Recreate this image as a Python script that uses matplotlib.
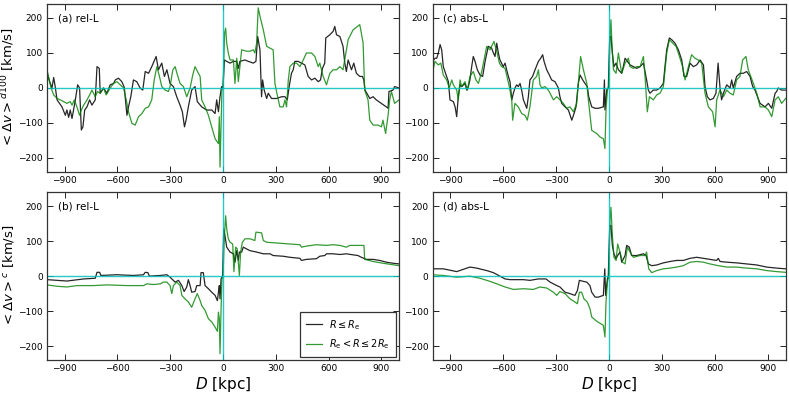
import matplotlib
matplotlib.use("Agg")
import matplotlib.pyplot as plt

# panel (a) rel-L, d100 : (D [kpc], <dv> [km/s])
a_black = [(-1000,42),(-985,18),(-972,0),(-962,30),(-953,2),(-943,-34),(-915,-54),(-896,-78),(-887,-63),(-877,-84),
           (-868,-63),(-858,-87),(-839,-34),(-826,9),(-815,0),(-805,-120),(-796,-111),(-786,-63),(-773,-54),(-758,-34),
           (-745,-49),(-726,-34),(-716,61),(-703,56),(-698,-15),(-679,0),(-660,-15),(-641,9),(-622,13),(-612,23),
           (-594,28),(-575,18),(-561,2),(-546,-78),(-537,-54),(-524,-25),(-509,23),(-490,18),(-471,0),(-456,-6),
           (-442,47),(-423,42),(-405,61),(-380,90),(-367,52),(-348,71),(-333,33),(-319,52),(-301,13),(-282,4),
           (-263,-25),(-244,-49),(-231,-68),(-219,-111),(-210,-92),(-197,-54),(-178,-6),(-159,4),(-146,-39),(-121,-54),
           (-93,-63),(-64,-63),(-45,-73),(-36,-34),(-26,-68),(-17,-25),(-8,4),(0,0),(8,80),(21,76),
           (40,71),(59,76),(78,76),(87,56),(96,76),(125,80),(144,76),(172,71),(187,76),(197,147),
           (210,109),(219,-25),(225,23),(234,-6),(248,-30),(257,-15),(276,-30),(304,-30),(333,-25),(352,-25),
           (365,-34),(376,4),(389,42),(399,52),(408,76),(427,76),(446,71),(465,66),(484,33),(503,23),
           (522,28),(541,18),(554,23),(565,56),(578,71),(584,143),(607,152),(626,162),(635,176),(645,152),
           (664,147),(682,119),(692,71),(701,47),(711,80),(730,52),(743,71),(758,42),(777,33),(792,33),
           (800,23),(807,-6),(834,-30),(853,-25),(871,-34),(900,-44),(928,-54),(938,-58),(943,-10),(966,-6),
           (975,4),(1000,0)]
a_green = [(-1000,52),(-987,23),(-977,0),(-962,-20),(-943,-30),(-924,-34),(-905,-39),(-887,-44),(-868,-39),(-858,-49),
           (-845,-34),(-830,-54),(-815,-78),(-805,-63),(-792,-49),(-773,-34),(-758,-20),(-745,-6),(-726,-25),(-713,-10),
           (-698,-15),(-679,0),(-664,-20),(-641,0),(-622,13),(-603,18),(-584,9),(-565,0),(-550,-34),(-537,-68),
           (-518,-101),(-499,-106),(-480,-82),(-461,-73),(-442,-58),(-423,-54),(-405,-34),(-391,23),(-376,61),(-361,33),
           (-348,4),(-329,-6),(-310,-10),(-301,4),(-285,52),(-272,61),(-259,37),(-244,13),(-225,4),(-206,-25),
           (-187,0),(-172,37),(-159,61),(-140,42),(-130,33),(-121,-34),(-102,-54),(-83,-78),(-64,-111),(-45,-145),
           (-26,-159),(-21,-82),(-17,-226),(-11,-111),(-6,-6),(0,0),(9,157),(15,171),(21,128),(30,100),
           (40,80),(59,80),(68,13),(78,85),(87,18),(96,61),(106,109),(134,105),(153,105),(172,109),
           (181,100),(191,128),(200,229),(210,205),(229,166),(248,119),(267,114),(285,109),(295,13),(304,-10),
           (323,-54),(342,-54),(352,-34),(361,-54),(371,23),(380,61),(399,71),(418,71),(437,61),(456,80),
           (474,100),(503,100),(522,90),(541,61),(550,71),(569,33),(588,9),(607,42),(626,52),(645,52),
           (664,61),(682,52),(711,138),(739,166),(777,181),(786,157),(796,128),(805,-6),(824,-34),(834,-92),
           (853,-106),(881,-106),(900,-111),(909,-92),(924,-130),(938,-78),(947,-34),(957,-10),(975,-44),(1000,-34)]

# panel (c) abs-L, d100
c_black = [(-1000,76),(-987,85),(-977,85),(-968,100),(-958,124),(-949,109),(-940,61),(-921,33),(-911,18),(-902,-34),
           (-883,-39),(-873,-54),(-864,-82),(-855,-25),(-845,9),(-836,4),(-817,13),(-807,-6),(-798,4),(-789,23),
           (-779,61),(-770,90),(-760,76),(-747,52),(-732,37),(-717,33),(-703,76),(-685,119),(-666,114),(-656,100),
           (-647,90),(-637,128),(-628,100),(-619,80),(-600,61),(-590,71),(-581,52),(-571,33),(-562,18),(-552,-34),
           (-543,-15),(-534,0),(-524,9),(-515,4),(-505,13),(-496,-6),(-486,-34),(-467,-58),(-458,-25),(-449,23),
           (-434,33),(-420,52),(-401,76),(-388,85),(-377,95),(-369,76),(-354,52),(-339,37),(-326,23),(-307,18),
           (-288,0),(-279,-25),(-269,-44),(-250,-54),(-231,-63),(-212,-92),(-199,-73),(-188,-54),(-175,13),(-165,37),
           (-150,23),(-137,13),(-124,4),(-116,-25),(-99,-54),(-80,-58),(-61,-58),(-33,-54),(-27,23),(-24,-63),
           (-14,-6),(-5,0),(3,147),(10,147),(18,100),(27,61),(39,71),(52,52),(71,42),(80,61),
           (90,85),(103,76),(118,66),(137,61),(156,56),(175,61),(194,71),(203,47),(212,23),(222,-6),
           (231,-15),(250,-6),(269,-6),(288,0),(307,13),(316,61),(326,109),(341,143),(354,138),(373,128),
           (392,109),(411,80),(424,33),(439,33),(458,71),(477,61),(496,66),(515,80),(534,66),(543,4),
           (556,-25),(571,-34),(590,-30),(605,-15),(617,71),(628,0),(637,-34),(647,-15),(666,9),(685,0),
           (694,23),(703,0),(722,33),(741,42),(760,42),(779,47),(798,33),(813,4),(826,-6),(855,-44),
           (883,-54),(902,-44),(921,-58),(940,-15),(949,-10),(958,0),(977,-6),(1000,-6)]
c_green = [(-1000,47),(-987,76),(-968,66),(-954,71),(-940,37),(-921,23),(-906,0),(-892,23),(-883,9),(-864,-6),
           (-855,-34),(-845,23),(-836,4),(-817,18),(-803,-6),(-789,33),(-770,47),(-755,23),(-741,13),(-722,47),
           (-709,80),(-694,119),(-675,109),(-666,119),(-653,133),(-637,105),(-622,71),(-609,61),(-590,56),(-581,37),
           (-566,4),(-552,-34),(-547,-92),(-534,-44),(-515,-54),(-496,-73),(-477,-78),(-464,-92),(-449,-54),(-430,23),
           (-411,33),(-401,52),(-392,9),(-382,0),(-364,4),(-345,-6),(-335,-15),(-316,-34),(-297,-25),(-279,-34),
           (-260,-44),(-241,-58),(-222,-54),(-203,-68),(-184,-44),(-175,13),(-162,90),(-146,52),(-127,13),(-118,-34),
           (-99,-121),(-71,-130),(-52,-140),(-33,-145),(-24,-173),(-18,-63),(-10,-6),(-3,4),(5,147),(10,195),
           (16,119),(24,52),(39,42),(52,100),(71,42),(90,71),(109,85),(118,61),(137,56),(156,61),
           (175,61),(194,90),(203,33),(216,-68),(228,-25),(250,-34),(269,-20),(288,-15),(307,4),(326,100),
           (341,138),(360,128),(379,119),(398,90),(416,61),(430,23),(449,61),(467,95),(486,85),(505,80),
           (524,71),(543,-15),(562,-54),(586,-68),(600,-111),(609,-34),(628,-6),(647,-25),(666,-6),(685,-15),
           (703,-20),(722,23),(741,33),(756,80),(775,90),(788,52),(817,13),(836,-15),(855,-54),(883,-54),
           (902,-63),(921,-82),(940,-34),(958,-25),(977,-44),(1000,-30)]

# panel (b) rel-L, cumulative
b_black = [(-1000,-10),(-887,-14),(-792,-8),(-726,-6),(-716,11),(-701,11),(-694,2),(-603,4),(-509,2),(-452,4),
           (-442,11),(-427,10),(-418,0),(-357,2),(-319,4),(-301,-3),(-272,-17),(-253,-12),(-234,-27),(-221,-44),
           (-206,-31),(-197,-10),(-187,-27),(-178,-46),(-159,-44),(-149,-27),(-130,-27),(-125,10),(-112,10),(-102,-27),
           (-83,-36),(-64,-46),(-45,-55),(-32,-70),(-26,-46),(-21,-27),(-17,-65),(-11,-8),(-2,2),(4,135),
           (11,116),(21,83),(40,69),(59,64),(68,40),(78,73),(87,45),(93,69),(106,69),(115,83),
           (134,78),(153,73),(191,69),(229,64),(267,64),(285,59),(342,57),(380,54),(437,51),(446,45),
           (474,48),(531,50),(550,57),(578,59),(588,64),(626,64),(664,62),(701,64),(739,61),(767,59),
           (786,54),(815,48),(853,48),(890,45),(928,40),(966,37),(1000,35)]
b_green = [(-1000,-25),(-943,-29),(-887,-31),(-830,-27),(-735,-27),(-660,-25),(-546,-27),(-452,-27),(-433,-22),(-395,-24),
           (-357,-22),(-338,-17),(-319,-17),(-301,-27),(-291,-50),(-282,-27),(-263,-17),(-244,-27),(-234,-55),(-216,-65),
           (-197,-74),(-178,-89),(-159,-65),(-146,-50),(-130,-70),(-121,-84),(-102,-98),(-83,-122),(-64,-131),(-45,-146),
           (-32,-158),(-26,-103),(-21,-122),(-17,-222),(-11,-93),(-6,-8),(0,0),(8,116),(15,173),(21,135),
           (30,107),(40,97),(55,92),(62,13),(72,83),(81,78),(93,2),(100,69),(110,97),(125,107),
           (153,107),(181,102),(187,126),(219,124),(229,102),(248,97),(304,95),(380,92),(437,90),(446,83),
           (474,86),(531,90),(588,88),(626,90),(664,88),(701,83),(720,88),(777,88),(801,88),(805,48),
           (853,42),(909,37),(1000,30)]

# panel (d) abs-L, cumulative
d_black = [(-1000,21),(-940,21),(-864,13),(-789,26),(-751,23),(-694,16),(-656,10),(-619,0),(-590,-8),(-562,-10),
           (-524,-10),(-486,-10),(-449,-12),(-401,-8),(-358,-8),(-335,-17),(-316,-22),(-297,-27),(-279,-31),(-250,-46),
           (-222,-50),(-194,-55),(-180,-41),(-169,-12),(-146,-15),(-127,-17),(-109,-27),(-99,-46),(-80,-60),(-61,-60),
           (-33,-55),(-25,21),(-20,-55),(-10,-8),(-5,0),(3,145),(10,145),(18,88),(27,64),(39,50),
           (48,59),(61,69),(71,40),(90,59),(99,88),(114,83),(127,59),(156,59),(194,64),(209,59),
           (222,35),(241,30),(269,32),(307,38),(345,42),(382,45),(420,45),(458,51),(496,54),(534,51),
           (571,48),(609,45),(618,51),(628,42),(666,40),(722,38),(779,35),(836,32),(892,26),(949,23),
           (1000,21)]
d_green = [(-1000,4),(-940,2),(-864,-3),(-789,0),(-732,-6),(-675,-15),(-637,-22),(-590,-31),(-543,-38),(-486,-36),
           (-430,-38),(-392,-31),(-354,-34),(-316,-46),(-297,-55),(-279,-44),(-250,-50),(-222,-65),(-194,-74),(-180,-79),
           (-169,-46),(-156,-46),(-143,-65),(-124,-74),(-109,-93),(-99,-117),(-71,-129),(-48,-136),(-33,-141),(-24,-174),
           (-18,-74),(-10,-17),(-3,0),(5,164),(10,197),(18,116),(27,54),(39,45),(48,92),(61,69),
           (76,40),(90,35),(103,83),(118,69),(137,54),(175,59),(203,59),(212,69),(224,21),(241,10),
           (269,16),(307,21),(345,23),(382,26),(420,30),(458,40),(496,42),(534,40),(571,35),(618,30),
           (666,26),(722,26),(779,23),(836,21),(892,16),(949,13),(1000,11)]

panel_tags = ["(a) rel-L", "(c) abs-L", "(b) rel-L", "(d) abs-L"]
xticks = [-900, -600, -300, 0, 300, 600, 900]
yticks = [-200, -100, 0, 100, 200]

fig = plt.figure(figsize=(7.89, 3.94), dpi=100)
ax_a = fig.add_axes([0.0596, 0.5635, 0.4461, 0.4264])
ax_c = fig.add_axes([0.5484, 0.5635, 0.4474, 0.4264])
ax_b = fig.add_axes([0.0596, 0.0863, 0.4461, 0.4256])
ax_d = fig.add_axes([0.5484, 0.0863, 0.4474, 0.4256])

panels = [(ax_a, a_black, a_green), (ax_c, c_black, c_green),
          (ax_b, b_black, b_green), (ax_d, d_black, d_green)]

for i, (ax, blk, grn) in enumerate(panels):
    xb, yb = zip(*blk)
    xg, yg = zip(*grn)
    ax.plot(xb, yb, color='k', lw=0.9, alpha=0.85, label=r'$R \leq R_{\rm e}$')
    ax.plot(xg, yg, color='g', lw=0.9, alpha=0.8, label=r'$R_{\rm e} < R \leq 2R_{\rm e}$')
    ax.axhline(0, color='c', lw=1.0, alpha=0.85)
    ax.axvline(0, color='c', lw=1.0, alpha=0.85)
    ax.set_xlim(-1000, 1000)
    ax.set_ylim(-240, 240)
    ax.set_xticks(xticks)
    ax.set_yticks(yticks)
    ax.tick_params(direction='in', top=True, right=True, labelsize=6.5, length=4, width=0.6, pad=3)
    for sp in ax.spines.values():
        sp.set_color('#333333')
        sp.set_linewidth(0.9)
    ax.text(0.03, 0.915, panel_tags[i], transform=ax.transAxes, fontsize=7.5, va='center', ha='left')

ax_a.set_ylabel(r'$<\Delta v>^{d100}$ [km/s]', fontsize=9.5)
ax_b.set_ylabel(r'$<\Delta v>^{c}$ [km/s]', fontsize=9.5)
ax_a.yaxis.set_label_coords(-0.088, 0.5)
ax_b.yaxis.set_label_coords(-0.088, 0.5)
ax_b.set_xlabel(r'$D$ [kpc]', fontsize=11, labelpad=1)
ax_d.set_xlabel(r'$D$ [kpc]', fontsize=11, labelpad=1)

leg = ax_b.legend(loc='lower right', fontsize=7, handlelength=1.6, borderaxespad=0.3,
                  fancybox=False, framealpha=1, labelspacing=0.6, borderpad=0.6)
leg.get_frame().set_edgecolor('#333333')
leg.get_frame().set_linewidth(0.9)

fig.savefig('out.png', dpi=100)
